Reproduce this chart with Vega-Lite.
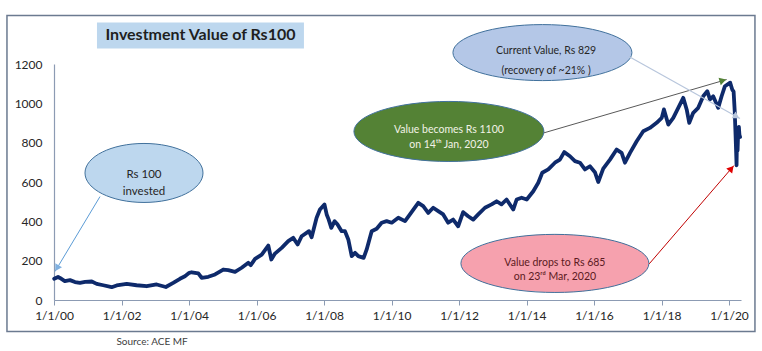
{
  "$schema": "https://vega.github.io/schema/vega-lite/v6.json",
  "width": 687,
  "height": 236,
  "autosize": "none",
  "padding": {"left": 54, "top": 64, "right": 21, "bottom": 51},
  "background": "white",
  "data": {"values": [{}]},
  "config": {
    "font": "Lato",
    "view": {"stroke": null},
    "axis": {"grid": false, "title": null, "labelFont": "Lato", "labelFontSize": 12, "labelColor": "#262626", "domainColor": "#8c9bb3", "tickColor": "#8c9bb3", "domainWidth": 1.2, "labelOverlap": false, "labelFlush": false}
  },
  "datasets": {
    "series": [
      {"date": "2000-01-03", "value": 108},
      {"date": "2000-02-14", "value": 117},
      {"date": "2000-03-05", "value": 112},
      {"date": "2000-04-27", "value": 96},
      {"date": "2000-06-22", "value": 101},
      {"date": "2000-08-15", "value": 91},
      {"date": "2000-10-08", "value": 87},
      {"date": "2000-12-02", "value": 92},
      {"date": "2001-02-13", "value": 94},
      {"date": "2001-04-07", "value": 82},
      {"date": "2001-06-18", "value": 75},
      {"date": "2001-09-16", "value": 65},
      {"date": "2001-11-09", "value": 74},
      {"date": "2002-02-26", "value": 82},
      {"date": "2002-06-13", "value": 75},
      {"date": "2002-09-30", "value": 70},
      {"date": "2003-01-16", "value": 79},
      {"date": "2003-04-25", "value": 66},
      {"date": "2003-07-14", "value": 87},
      {"date": "2003-09-25", "value": 108},
      {"date": "2003-11-18", "value": 121},
      {"date": "2004-01-04", "value": 138},
      {"date": "2004-01-30", "value": 141},
      {"date": "2004-04-11", "value": 135},
      {"date": "2004-05-17", "value": 113},
      {"date": "2004-07-28", "value": 118},
      {"date": "2004-10-09", "value": 130},
      {"date": "2005-01-06", "value": 155},
      {"date": "2005-03-01", "value": 152},
      {"date": "2005-05-13", "value": 143},
      {"date": "2005-07-24", "value": 164},
      {"date": "2005-10-04", "value": 189},
      {"date": "2005-10-30", "value": 177},
      {"date": "2005-12-16", "value": 209},
      {"date": "2006-02-26", "value": 231},
      {"date": "2006-05-08", "value": 277},
      {"date": "2006-06-10", "value": 206},
      {"date": "2006-07-19", "value": 236},
      {"date": "2006-09-30", "value": 265},
      {"date": "2006-12-10", "value": 299},
      {"date": "2007-02-02", "value": 316},
      {"date": "2007-03-22", "value": 282},
      {"date": "2007-05-04", "value": 324},
      {"date": "2007-07-23", "value": 350},
      {"date": "2007-08-20", "value": 319},
      {"date": "2007-10-13", "value": 418},
      {"date": "2007-11-18", "value": 460},
      {"date": "2008-01-06", "value": 486},
      {"date": "2008-01-30", "value": 435},
      {"date": "2008-02-20", "value": 410},
      {"date": "2008-03-20", "value": 367},
      {"date": "2008-04-25", "value": 401},
      {"date": "2008-05-25", "value": 385},
      {"date": "2008-07-10", "value": 350},
      {"date": "2008-08-15", "value": 350},
      {"date": "2008-09-20", "value": 308},
      {"date": "2008-10-27", "value": 223},
      {"date": "2008-12-02", "value": 240},
      {"date": "2009-01-06", "value": 223},
      {"date": "2009-03-05", "value": 214},
      {"date": "2009-04-07", "value": 257},
      {"date": "2009-05-31", "value": 350},
      {"date": "2009-07-24", "value": 362},
      {"date": "2009-09-16", "value": 393},
      {"date": "2009-11-09", "value": 401},
      {"date": "2010-01-03", "value": 393},
      {"date": "2010-03-15", "value": 418},
      {"date": "2010-05-27", "value": 401},
      {"date": "2010-07-19", "value": 435},
      {"date": "2010-10-17", "value": 494},
      {"date": "2010-12-10", "value": 477},
      {"date": "2011-02-02", "value": 443},
      {"date": "2011-03-28", "value": 469},
      {"date": "2011-05-21", "value": 452},
      {"date": "2011-07-14", "value": 435},
      {"date": "2011-09-06", "value": 393},
      {"date": "2011-10-30", "value": 409},
      {"date": "2011-12-23", "value": 375},
      {"date": "2012-02-15", "value": 447},
      {"date": "2012-04-09", "value": 426},
      {"date": "2012-06-03", "value": 409},
      {"date": "2012-07-27", "value": 435},
      {"date": "2012-10-08", "value": 469},
      {"date": "2012-12-19", "value": 486},
      {"date": "2013-02-11", "value": 502},
      {"date": "2013-04-05", "value": 486},
      {"date": "2013-05-30", "value": 511},
      {"date": "2013-08-10", "value": 460},
      {"date": "2013-09-16", "value": 511},
      {"date": "2013-11-09", "value": 520},
      {"date": "2014-01-03", "value": 511},
      {"date": "2014-03-15", "value": 553},
      {"date": "2014-05-08", "value": 596},
      {"date": "2014-06-20", "value": 647},
      {"date": "2014-08-24", "value": 664},
      {"date": "2014-11-04", "value": 698},
      {"date": "2014-12-28", "value": 714},
      {"date": "2015-02-13", "value": 752},
      {"date": "2015-04-16", "value": 731},
      {"date": "2015-06-09", "value": 706},
      {"date": "2015-08-02", "value": 698},
      {"date": "2015-09-25", "value": 664},
      {"date": "2015-11-18", "value": 680},
      {"date": "2016-01-11", "value": 650},
      {"date": "2016-02-16", "value": 600},
      {"date": "2016-04-10", "value": 668},
      {"date": "2016-06-22", "value": 714},
      {"date": "2016-09-02", "value": 765},
      {"date": "2016-10-26", "value": 748},
      {"date": "2016-12-01", "value": 698},
      {"date": "2017-01-25", "value": 748},
      {"date": "2017-04-07", "value": 807},
      {"date": "2017-06-17", "value": 858},
      {"date": "2017-08-28", "value": 875},
      {"date": "2017-11-09", "value": 901},
      {"date": "2018-01-03", "value": 926},
      {"date": "2018-01-27", "value": 969},
      {"date": "2018-03-15", "value": 892},
      {"date": "2018-05-08", "value": 926},
      {"date": "2018-07-01", "value": 977},
      {"date": "2018-08-24", "value": 1028},
      {"date": "2018-09-30", "value": 969},
      {"date": "2018-10-28", "value": 901},
      {"date": "2018-12-10", "value": 952},
      {"date": "2019-02-02", "value": 977},
      {"date": "2019-03-28", "value": 1036},
      {"date": "2019-05-11", "value": 1062},
      {"date": "2019-06-09", "value": 1020},
      {"date": "2019-07-14", "value": 1036},
      {"date": "2019-09-06", "value": 977},
      {"date": "2019-10-13", "value": 1036},
      {"date": "2019-11-18", "value": 1087},
      {"date": "2020-01-14", "value": 1105},
      {"date": "2020-02-05", "value": 1070},
      {"date": "2020-02-20", "value": 1060},
      {"date": "2020-03-03", "value": 960},
      {"date": "2020-03-12", "value": 840},
      {"date": "2020-03-23", "value": 685},
      {"date": "2020-03-26", "value": 780},
      {"date": "2020-04-03", "value": 760},
      {"date": "2020-04-09", "value": 850},
      {"date": "2020-04-17", "value": 880},
      {"date": "2020-04-23", "value": 840},
      {"date": "2020-04-30", "value": 829}
    ]
  },
  "layer": [
    {
      "data": {"name": "series"},
      "mark": {"type": "line", "color": "#0e2a6b", "strokeWidth": 3.8, "strokeJoin": "round", "strokeCap": "round"},
      "encoding": {
        "x": {
          "field": "date", "type": "temporal",
          "scale": {"type": "utc", "domain": [{"year": 2000, "month": 1, "date": 1, "utc": true}, {"year": 2020, "month": 5, "date": 10, "utc": true}]},
          "axis": {
            "format": "%-m/%-d/%y",
            "values": [
              {"year": 2000, "month": 1, "date": 1, "utc": true},
              {"year": 2002, "month": 1, "date": 1, "utc": true},
              {"year": 2004, "month": 1, "date": 1, "utc": true},
              {"year": 2006, "month": 1, "date": 1, "utc": true},
              {"year": 2008, "month": 1, "date": 1, "utc": true},
              {"year": 2010, "month": 1, "date": 1, "utc": true},
              {"year": 2012, "month": 1, "date": 1, "utc": true},
              {"year": 2014, "month": 1, "date": 1, "utc": true},
              {"year": 2016, "month": 1, "date": 1, "utc": true},
              {"year": 2018, "month": 1, "date": 1, "utc": true},
              {"year": 2020, "month": 1, "date": 1, "utc": true}
            ],
            "tickSize": 5, "labelPadding": 5, "labelFlush": false, "labelOverlap": false
          }
        },
        "y": {
          "field": "value", "type": "quantitative",
          "scale": {"domain": [0, 1200], "nice": false, "zero": false},
          "axis": {"values": [0, 200, 400, 600, 800, 1000, 1200], "tickCount": 7, "format": "d", "ticks": false, "labelPadding": 12, "labelOverlap": false, "labelFlush": false}
        }
      }
    },
    {
      "mark": {"type": "rect", "fill": null, "stroke": "#6b7a90", "strokeWidth": 1.5},
      "encoding": {
        "x": {"datum": {"year": 1998, "month": 8, "date": 10, "utc": true}, "type": "temporal"},
        "x2": {"datum": {"year": 2020, "month": 10, "date": 8, "utc": true}},
        "y": {"datum": 1447, "type": "quantitative"},
        "y2": {"datum": -160}
      }
    },
    {
      "mark": {"type": "rect", "fill": "#bdd7ee", "stroke": null},
      "encoding": {
        "x": {"datum": {"year": 2001, "month": 4, "date": 10, "utc": true}, "type": "temporal"},
        "x2": {"datum": {"year": 2007, "month": 5, "date": 29, "utc": true}},
        "y": {"datum": 1411, "type": "quantitative"},
        "y2": {"datum": 1279}
      }
    },
    {
      "mark": {"type": "text", "text": "Investment Value of Rs100", "font": "Lato", "fontSize": 16, "fontWeight": "bold", "color": "#1f1f1f", "align": "center", "baseline": "middle"},
      "encoding": {
        "x": {"datum": {"year": 2004, "month": 5, "date": 4, "utc": true}, "type": "temporal"},
        "y": {"datum": 1345, "type": "quantitative"}
      }
    },
    {
      "mark": {"type": "point", "shape": "M -1 0 A 1 0.5 0 1 1 1 0 A 1 0.5 0 1 1 -1 0 Z", "size": 13924, "filled": true, "fill": "#bdd7ee", "stroke": "#41719c", "strokeWidth": 1, "opacity": 1},
      "encoding": {
        "x": {"datum": {"year": 2002, "month": 9, "date": 1, "utc": true}, "type": "temporal"},
        "y": {"datum": 646, "type": "quantitative"}
      }
    },
    {
      "mark": {"type": "point", "shape": "M -1 0 A 1 0.316 0 1 1 1 0 A 1 0.316 0 1 1 -1 0 Z", "size": 36100, "filled": true, "fill": "#548235", "stroke": "#41719c", "strokeWidth": 1, "opacity": 1},
      "encoding": {
        "x": {"datum": {"year": 2011, "month": 9, "date": 14, "utc": true}, "type": "temporal"},
        "y": {"datum": 857, "type": "quantitative"}
      }
    },
    {
      "mark": {"type": "point", "shape": "M -1 0 A 1 0.313 0 1 1 1 0 A 1 0.313 0 1 1 -1 0 Z", "size": 32041, "filled": true, "fill": "#b4c7e7", "stroke": "#41719c", "strokeWidth": 1, "opacity": 1},
      "encoding": {
        "x": {"datum": {"year": 2014, "month": 6, "date": 22, "utc": true}, "type": "temporal"},
        "y": {"datum": 1258, "type": "quantitative"}
      }
    },
    {
      "mark": {"type": "point", "shape": "M -1 0 A 1 0.309 0 1 1 1 0 A 1 0.309 0 1 1 -1 0 Z", "size": 35344, "filled": true, "fill": "#f6a1ae", "stroke": "#41719c", "strokeWidth": 1, "opacity": 1},
      "encoding": {
        "x": {"datum": {"year": 2014, "month": 11, "date": 4, "utc": true}, "type": "temporal"},
        "y": {"datum": 186, "type": "quantitative"}
      }
    },
    {
      "mark": {"type": "rule", "stroke": "#5b9bd5", "strokeWidth": 1},
      "encoding": {
        "x": {"datum": {"year": 2001, "month": 5, "date": 13, "utc": true}, "type": "temporal"},
        "x2": {"datum": {"year": 2000, "month": 1, "date": 12, "utc": true}},
        "y": {"datum": 526, "type": "quantitative"},
        "y2": {"datum": 145}
      }
    },
    {
      "mark": {"type": "point", "shape": "triangle-up", "size": 60, "angle": 210.6, "filled": true, "fill": "#7fb0e0", "strokeWidth": 0, "opacity": 1},
      "encoding": {
        "x": {"datum": {"year": 2000, "month": 2, "date": 2, "utc": true}, "type": "temporal"},
        "y": {"datum": 162, "type": "quantitative"}
      }
    },
    {
      "mark": {"type": "rule", "stroke": "#595959", "strokeWidth": 1},
      "encoding": {
        "x": {"datum": {"year": 2014, "month": 7, "date": 9, "utc": true}, "type": "temporal"},
        "x2": {"datum": {"year": 2019, "month": 12, "date": 7, "utc": true}},
        "y": {"datum": 850, "type": "quantitative"},
        "y2": {"datum": 1121}
      }
    },
    {
      "mark": {"type": "point", "shape": "triangle-up", "size": 60, "angle": 73.7, "filled": true, "fill": "#548235", "strokeWidth": 0, "opacity": 1},
      "encoding": {
        "x": {"datum": {"year": 2019, "month": 10, "date": 27, "utc": true}, "type": "temporal"},
        "y": {"datum": 1116, "type": "quantitative"}
      }
    },
    {
      "mark": {"type": "rule", "stroke": "#b8c6dc", "strokeWidth": 1.2},
      "encoding": {
        "x": {"datum": {"year": 2017, "month": 1, "date": 13, "utc": true}, "type": "temporal"},
        "x2": {"datum": {"year": 2020, "month": 4, "date": 29, "utc": true}},
        "y": {"datum": 1238, "type": "quantitative"},
        "y2": {"datum": 923}
      }
    },
    {
      "mark": {"type": "point", "shape": "triangle-up", "size": 60, "angle": 119.6, "filled": true, "fill": "#b8c6dc", "strokeWidth": 0, "opacity": 1},
      "encoding": {
        "x": {"datum": {"year": 2020, "month": 3, "date": 22, "utc": true}, "type": "temporal"},
        "y": {"datum": 933, "type": "quantitative"}
      }
    },
    {
      "mark": {"type": "rule", "stroke": "#c00000", "strokeWidth": 1},
      "encoding": {
        "x": {"datum": {"year": 2017, "month": 8, "date": 21, "utc": true}, "type": "temporal"},
        "x2": {"datum": {"year": 2020, "month": 2, "date": 24, "utc": true}},
        "y": {"datum": 184, "type": "quantitative"},
        "y2": {"datum": 684}
      }
    },
    {
      "mark": {"type": "point", "shape": "triangle-up", "size": 60, "angle": 40.8, "filled": true, "fill": "#e00000", "strokeWidth": 0, "opacity": 1},
      "encoding": {
        "x": {"datum": {"year": 2020, "month": 1, "date": 27, "utc": true}, "type": "temporal"},
        "y": {"datum": 669, "type": "quantitative"}
      }
    },
    {
      "mark": {"type": "text", "text": ["Rs 100", "invested"], "lineHeight": 17, "font": "Lato", "fontSize": 11.5, "color": "#262626", "align": "center", "baseline": "middle"},
      "encoding": {
        "x": {"datum": {"year": 2002, "month": 9, "date": 1, "utc": true}, "type": "temporal"},
        "y": {"datum": 637, "type": "quantitative"}
      }
    },
    {
      "mark": {"type": "text", "text": ["Value becomes Rs 1100", "on 14ᵗʰ Jan, 2020"], "lineHeight": 15, "font": "Lato", "fontSize": 10.5, "color": "#f2f2e6", "align": "center", "baseline": "middle"},
      "encoding": {
        "x": {"datum": {"year": 2011, "month": 9, "date": 14, "utc": true}, "type": "temporal"},
        "y": {"datum": 863, "type": "quantitative"}
      }
    },
    {
      "mark": {"type": "text", "text": ["Current Value, Rs 829", "(recovery of ~21% )"], "lineHeight": 20, "font": "Lato", "fontSize": 10.5, "color": "#262626", "align": "center", "baseline": "middle"},
      "encoding": {
        "x": {"datum": {"year": 2014, "month": 8, "date": 1, "utc": true}, "type": "temporal"},
        "y": {"datum": 1265, "type": "quantitative"}
      }
    },
    {
      "mark": {"type": "text", "text": ["Value drops to  Rs 685", "on 23ʳᵈ Mar, 2020"], "lineHeight": 13.5, "font": "Lato", "fontSize": 10.5, "color": "#5c1a22", "align": "center", "baseline": "middle"},
      "encoding": {
        "x": {"datum": {"year": 2014, "month": 11, "date": 4, "utc": true}, "type": "temporal"},
        "y": {"datum": 186, "type": "quantitative"}
      }
    },
    {
      "mark": {"type": "text", "text": "Source: ACE MF", "font": "Lato", "fontSize": 10, "color": "#404040", "align": "center", "baseline": "middle"},
      "encoding": {
        "x": {"datum": {"year": 2002, "month": 11, "date": 27, "utc": true}, "type": "temporal"},
        "y": {"datum": -212, "type": "quantitative"}
      }
    }
  ]
}
